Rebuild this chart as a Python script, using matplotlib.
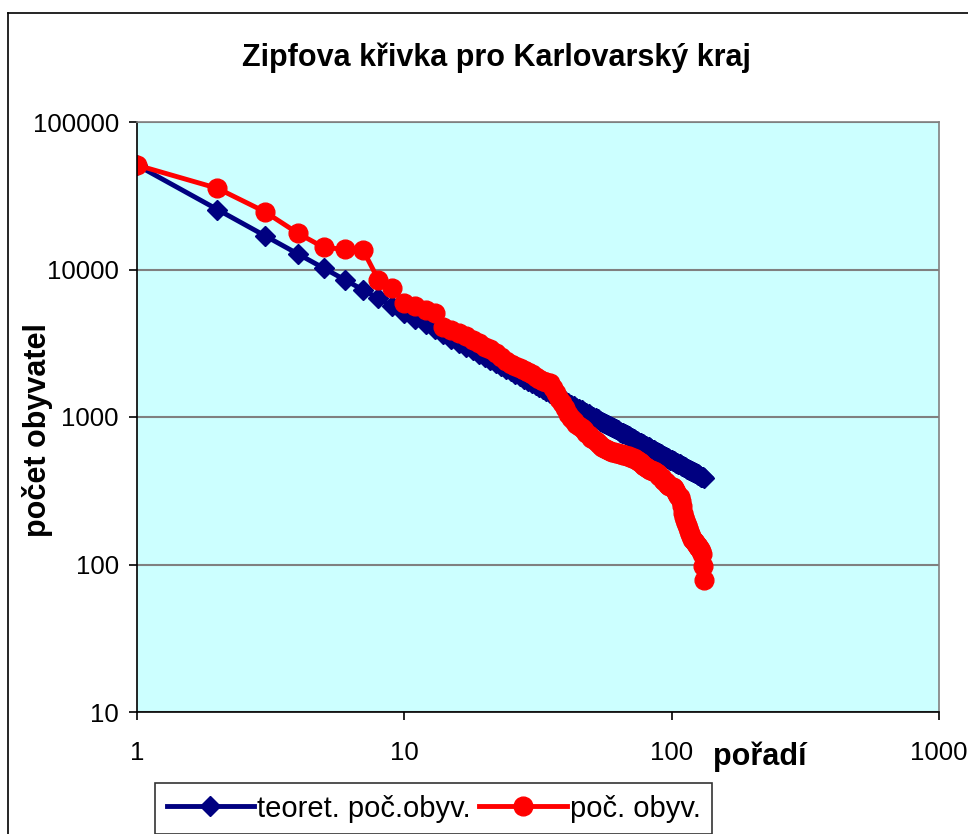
import matplotlib
matplotlib.use("Agg")
import matplotlib.pyplot as plt
from matplotlib.lines import Line2D

plt.rcParams['font.family'] = ['Liberation Sans', 'DejaVu Sans']

# data: rank of municipality, theoretical and real population
rank = list(range(1, 133))

teoret = [51000, 25500, 17000, 12750, 10200, 8500, 7286, 6375, 5667, 5100,
          4636, 4250, 3923, 3643, 3400, 3188, 3000, 2833, 2684, 2550,
          2429, 2318, 2217, 2125, 2040, 1962, 1889, 1821, 1759, 1700,
          1645, 1594, 1545, 1500, 1457, 1417, 1378, 1342, 1308, 1275,
          1244, 1214, 1186, 1159, 1133, 1109, 1085, 1063, 1041, 1020,
          1000, 981, 962, 944, 927, 911, 895, 879, 864, 850,
          836, 823, 810, 797, 785, 773, 761, 750, 739, 729,
          718, 708, 699, 689, 680, 671, 662, 654, 646, 638,
          630, 622, 614, 607, 600, 593, 586, 580, 573, 567,
          560, 554, 548, 543, 537, 531, 526, 520, 515, 510,
          505, 500, 495, 490, 486, 481, 477, 472, 468, 464,
          459, 455, 451, 447, 443, 440, 436, 432, 429, 425,
          421, 418, 415, 411, 408, 405, 402, 398, 395, 392,
          389, 386]

obyv = [51000, 35500, 24700, 17600, 14100, 13700, 13600, 8500, 7450, 5900,
        5650, 5300, 5050, 4100, 3900, 3700, 3550, 3350, 3150, 3000,
        2870, 2700, 2550, 2400, 2300, 2220, 2150, 2080, 2030, 1950,
        1870, 1800, 1760, 1740, 1700, 1580, 1450, 1320, 1250, 1150,
        1040, 980, 940, 900, 870, 840, 810, 780, 750, 725,
        710, 690, 670, 650, 630, 615, 605, 598, 590, 582,
        575, 570, 566, 562, 558, 554, 550, 546, 542, 537,
        531, 525, 518, 510, 502, 494, 485, 475, 468, 460,
        452, 445, 440, 436, 432, 428, 422, 415, 408, 400,
        392, 384, 376, 368, 360, 352, 345, 340, 338, 336,
        334, 330, 322, 312, 302, 292, 285, 270, 250, 225,
        210, 200, 192, 185, 178, 170, 160, 155, 150, 147,
        144, 141, 138, 135, 133, 131, 130, 128, 124, 118,
        97, 78]

fig = plt.figure(figsize=(9.68, 8.34), dpi=100)
ax = fig.add_axes([137/968, 1 - 712/834, (939 - 137)/968, (712 - 122)/834])
ax.set_facecolor("#CCFFFF")

ax.plot(rank, teoret, color="#000080", lw=3.5, marker="D", ms=10,
        label="teoret. poč.obyv.")
ax.plot(rank, obyv, color="#FF0000", lw=3.5, marker="o", ms=13.5,
        label="poč. obyv.")

ax.set_xscale("log")
ax.set_yscale("log")
ax.set_xlim(1, 1000)
ax.set_ylim(10, 100000)
ax.set_xticks([1, 10, 100, 1000])
ax.set_xticklabels(["1", "10", "100", "1000"])
ax.set_yticks([10, 100, 1000, 10000, 100000])
ax.set_yticklabels(["10", "100", "1000", "10000", "100000"])
ax.minorticks_off()
ax.tick_params(axis="both", labelsize=18.5, length=6, width=1.2, color="black")
ax.tick_params(axis="x", pad=15)
ax.tick_params(axis="y", pad=7)

ax.grid(axis="y", color="#808080", lw=1.5)
ax.set_axisbelow(True)
for s in ["top", "right"]:
    ax.spines[s].set_color("#808080")
    ax.spines[s].set_linewidth(1.2)
for s in ["left", "bottom"]:
    ax.spines[s].set_color("black")
    ax.spines[s].set_linewidth(1.2)

fig.text(496/968, 1 - 58/834, "Zipfova křivka pro Karlovarský kraj",
         fontsize=22, fontweight="bold", ha="center", va="center")
fig.text(38/968, 1 - 430/834, "počet obyvatel", fontsize=22,
         fontweight="bold", rotation=90, ha="center", va="center")
fig.text(760/968, 1 - 757/834, "pořadí", fontsize=22, fontweight="bold",
         ha="center", va="center")

# outer chart border (continues past the picture edges)
fig.add_artist(Line2D([8/968, 8/968], [0, 1 - 13/834], color="black", lw=1.2,
                      transform=fig.transFigure))
fig.add_artist(Line2D([8/968, 1], [1 - 13/834, 1 - 13/834], color="black",
                      lw=1.2, transform=fig.transFigure))

leg = fig.legend(loc="upper left", bbox_to_anchor=(155/968, 1 - 783/834),
                 ncol=2, fontsize=21, frameon=True, fancybox=False,
                 edgecolor="black", handlelength=3.0, handletextpad=0.1,
                 columnspacing=0.3, borderpad=0.4, borderaxespad=0)
leg.get_frame().set_linewidth(1.2)

fig.savefig("out.png", dpi=100)
